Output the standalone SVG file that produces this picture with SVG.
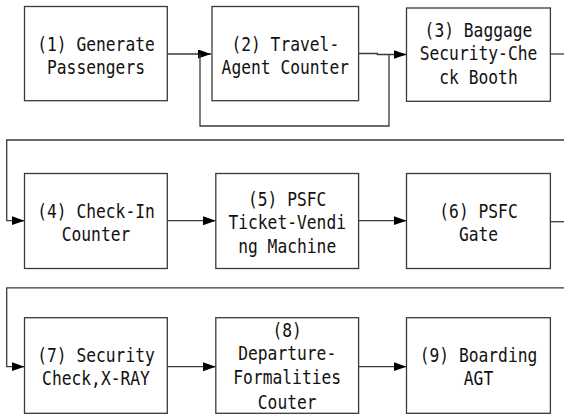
<svg xmlns="http://www.w3.org/2000/svg" width="564" height="415" viewBox="0 0 564 415">
  <style>
    .box { fill: #ffffff; stroke: #3a3a3a; stroke-width: 1.3; }
    .lbl { font-family: "DejaVu Sans Mono", "Liberation Mono", "Noto Sans CJK JP", monospace; font-size: 20px; fill: #111111; text-anchor: middle; }
    .conn { fill: none; stroke: #3a3a3a; stroke-width: 1.3; }
  </style>
  <defs>
    <marker id="arrow" markerUnits="userSpaceOnUse" markerWidth="14" markerHeight="10" refX="13" refY="4.5" orient="auto">
      <path d="M0,0 L13,4.5 L0,9 z" fill="#000000"/>
    </marker>
  </defs>
  <rect width="564" height="415" fill="#ffffff"/>

  <g id="connectors">
    <path class="conn" d="M167.3,54 L211,54" marker-end="url(#arrow)"/>
    <path class="conn" d="M389,54.5 L389,126 L200,126 L200,54"/>
    <path class="conn" d="M358.6,53.5 L377.3,53.5 L377.3,54.5 L406.5,54.5" marker-end="url(#arrow)"/>
    <path class="conn" d="M550.4,54 L564,54"/>
    <path class="conn" d="M564,140 L6.7,140 L6.7,220.7 L24.5,220.7" marker-end="url(#arrow)"/>
    <path class="conn" d="M167.3,220.7 L215.8,220.7" marker-end="url(#arrow)"/>
    <path class="conn" d="M358.6,220.7 L406.5,220.7" marker-end="url(#arrow)"/>
    <path class="conn" d="M550.4,221.7 L564,221.7"/>
    <path class="conn" d="M564,287.8 L6.7,287.8 L6.7,366.7 L24.5,366.7" marker-end="url(#arrow)"/>
    <path class="conn" d="M167.3,366.7 L215.8,366.7" marker-end="url(#arrow)"/>
    <path class="conn" d="M358.6,366.7 L406.5,366.7" marker-end="url(#arrow)"/>
  </g>

  <g id="node1">
    <rect class="box" x="24.5" y="6.5" width="142.8" height="94.2"/>
    <text class="lbl" x="96" y="51" textLength="117.6" lengthAdjust="spacingAndGlyphs">(1) Generate</text>
    <text class="lbl" x="96" y="74" textLength="98" lengthAdjust="spacingAndGlyphs">Passengers</text>
  </g>
  <g id="node2">
    <rect class="box" x="212" y="6.5" width="146.6" height="94.2"/>
    <text class="lbl" x="285.3" y="51" textLength="107.8" lengthAdjust="spacingAndGlyphs">(2) Travel-</text>
    <text class="lbl" x="285.3" y="74" textLength="127.4" lengthAdjust="spacingAndGlyphs">Agent Counter</text>
  </g>
  <g id="node3">
    <rect class="box" x="406.5" y="8" width="143.9" height="93.3"/>
    <text class="lbl" x="478.5" y="37" textLength="107.8" lengthAdjust="spacingAndGlyphs">(3) Baggage</text>
    <text class="lbl" x="478.5" y="60.3" textLength="117.6" lengthAdjust="spacingAndGlyphs">Security-Che</text>
    <text class="lbl" x="478.5" y="83.6" textLength="78.4" lengthAdjust="spacingAndGlyphs">ck Booth</text>
  </g>

  <g id="node4">
    <rect class="box" x="24.5" y="173.5" width="142.8" height="95"/>
    <text class="lbl" x="96" y="218" textLength="117.6" lengthAdjust="spacingAndGlyphs">(4) Check-In</text>
    <text class="lbl" x="96" y="241" textLength="68.6" lengthAdjust="spacingAndGlyphs">Counter</text>
  </g>
  <g id="node5">
    <rect class="box" x="215.8" y="173.5" width="142.8" height="95"/>
    <text class="lbl" x="287.2" y="205.5" textLength="78.4" lengthAdjust="spacingAndGlyphs">(5) PSFC</text>
    <text class="lbl" x="287.2" y="229" textLength="117.6" lengthAdjust="spacingAndGlyphs">Ticket-Vendi</text>
    <text class="lbl" x="287.2" y="252.5" textLength="98" lengthAdjust="spacingAndGlyphs">ng Machine</text>
  </g>
  <g id="node6">
    <rect class="box" x="406.5" y="173.5" width="143.9" height="95"/>
    <text class="lbl" x="478.5" y="218" textLength="78.4" lengthAdjust="spacingAndGlyphs">(6) PSFC</text>
    <text class="lbl" x="478.5" y="241" textLength="39.2" lengthAdjust="spacingAndGlyphs">Gate</text>
  </g>

  <g id="node7">
    <rect class="box" x="24.5" y="317.7" width="142.8" height="95.6"/>
    <text class="lbl" x="96" y="362" textLength="117.6" lengthAdjust="spacingAndGlyphs">(7) Security</text>
    <text class="lbl" x="96" y="385" textLength="107.8" lengthAdjust="spacingAndGlyphs">Check,X-RAY</text>
  </g>
  <g id="node8">
    <rect class="box" x="215.8" y="317.7" width="142.8" height="95.6"/>
    <text class="lbl" x="287.2" y="336.5" textLength="29.4" lengthAdjust="spacingAndGlyphs">(8)</text>
    <text class="lbl" x="287.2" y="360" textLength="98" lengthAdjust="spacingAndGlyphs">Departure-</text>
    <text class="lbl" x="287.2" y="384" textLength="107.8" lengthAdjust="spacingAndGlyphs">Formalities</text>
    <text class="lbl" x="287.2" y="409" textLength="58.8" lengthAdjust="spacingAndGlyphs">Couter</text>
  </g>
  <g id="node9">
    <rect class="box" x="406.5" y="317.7" width="143.9" height="95.6"/>
    <text class="lbl" x="478.5" y="362" textLength="117.6" lengthAdjust="spacingAndGlyphs">(9) Boarding</text>
    <text class="lbl" x="478.5" y="385" textLength="29.4" lengthAdjust="spacingAndGlyphs">AGT</text>
  </g>
</svg>
